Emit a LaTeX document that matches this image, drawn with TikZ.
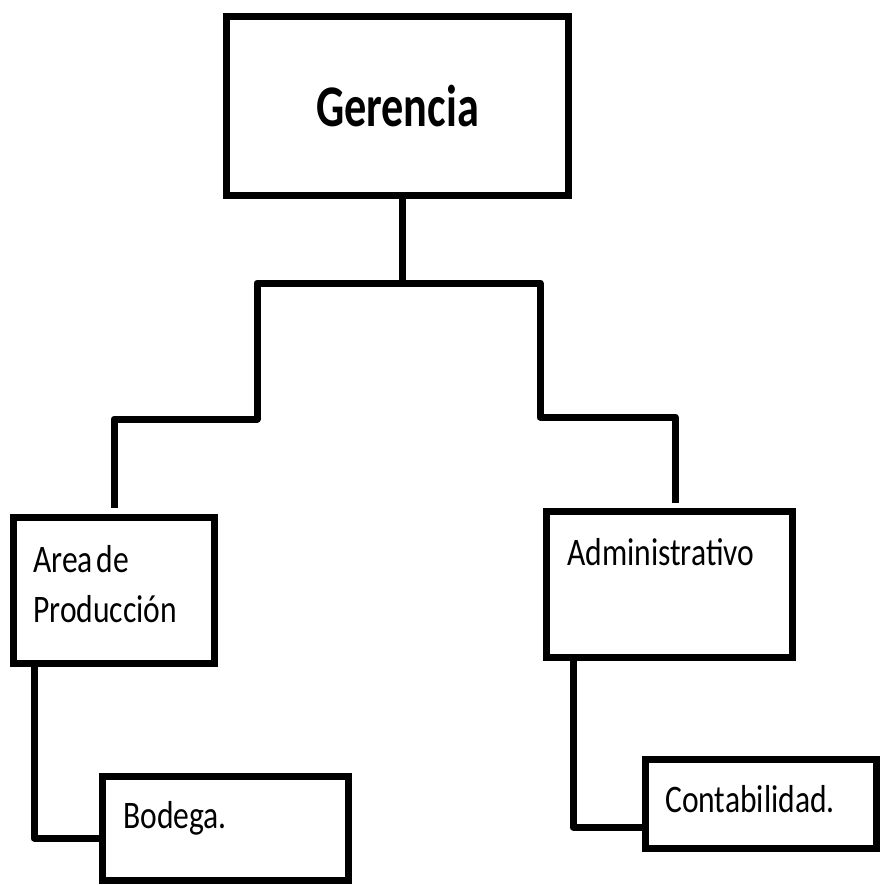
\documentclass[tikz,border=0pt]{standalone}
\usepackage{fontspec}
\setmainfont[FakeStretch=0.81]{Carlito}
\newfontfamily\gerfont[FakeStretch=0.75]{Carlito}
\usetikzlibrary{calc}
\begin{document}
\begin{tikzpicture}[x=1pt,y=-1pt,
  box/.style={draw=black,line width=7pt,rectangle,inner sep=0pt,fill=white},
  conn/.style={draw=black,line width=7pt,line join=round},
  lbl/.style={anchor=base west,inner sep=0pt,font=\fontsize{39}{47}\selectfont}]
\useasboundingbox (0,0) rectangle (881,885);
% boxes
\node[box,minimum width=342pt,minimum height=179pt,font=\gerfont\bfseries\fontsize{59}{70}\selectfont] (ger) at (397.5,106) {Gerencia};
\node[box,minimum width=201pt,minimum height=146pt] (area) at (114,590.5) {};
\node[box,minimum width=246pt,minimum height=146pt] (adm) at (669.5,584.5) {};
\node[box,minimum width=246pt,minimum height=104pt] (bod) at (225.5,828.5) {};
\node[box,minimum width=231pt,minimum height=89pt] (cont) at (761,804) {};
% texts
\node[lbl] (t1) at (33,572) {Area\hspace{-0.08em} de};
\node[lbl] (t2) at (33,622) {Producción};
\node[lbl] (t3) at (567,565) {Administrativo};
\node[lbl] (t4) at (123,828) {Bodega.};
\node[lbl] (t5) at (665,812) {Contabilidad.};
% helper coordinates
\coordinate (gx) at (402,0);
\coordinate (h) at (0,283);
\coordinate (lx) at (257,0);
\coordinate (ly) at (0,419);
\coordinate (rx) at (540,0);
\coordinate (ry) at (0,417);
\coordinate (bx) at (34,0);
\coordinate (by) at (0,838);
\coordinate (cx) at (573,0);
\coordinate (cy) at (0,827);
\coordinate (aend) at (114,508);
\coordinate (dend) at (675,503);
% connectors
\draw[conn] (ger.south -| gx) -- (gx |- h);
\draw[conn] (aend) |- (lx |- ly) |- (gx |- h);
\draw[conn] (dend) |- (rx |- ry) |- (gx |- h);
\draw[conn] (area.south -| bx) |- (bod.west |- by);
\draw[conn] (adm.south -| cx) |- (cont.west |- cy);
\end{tikzpicture}
\end{document}
